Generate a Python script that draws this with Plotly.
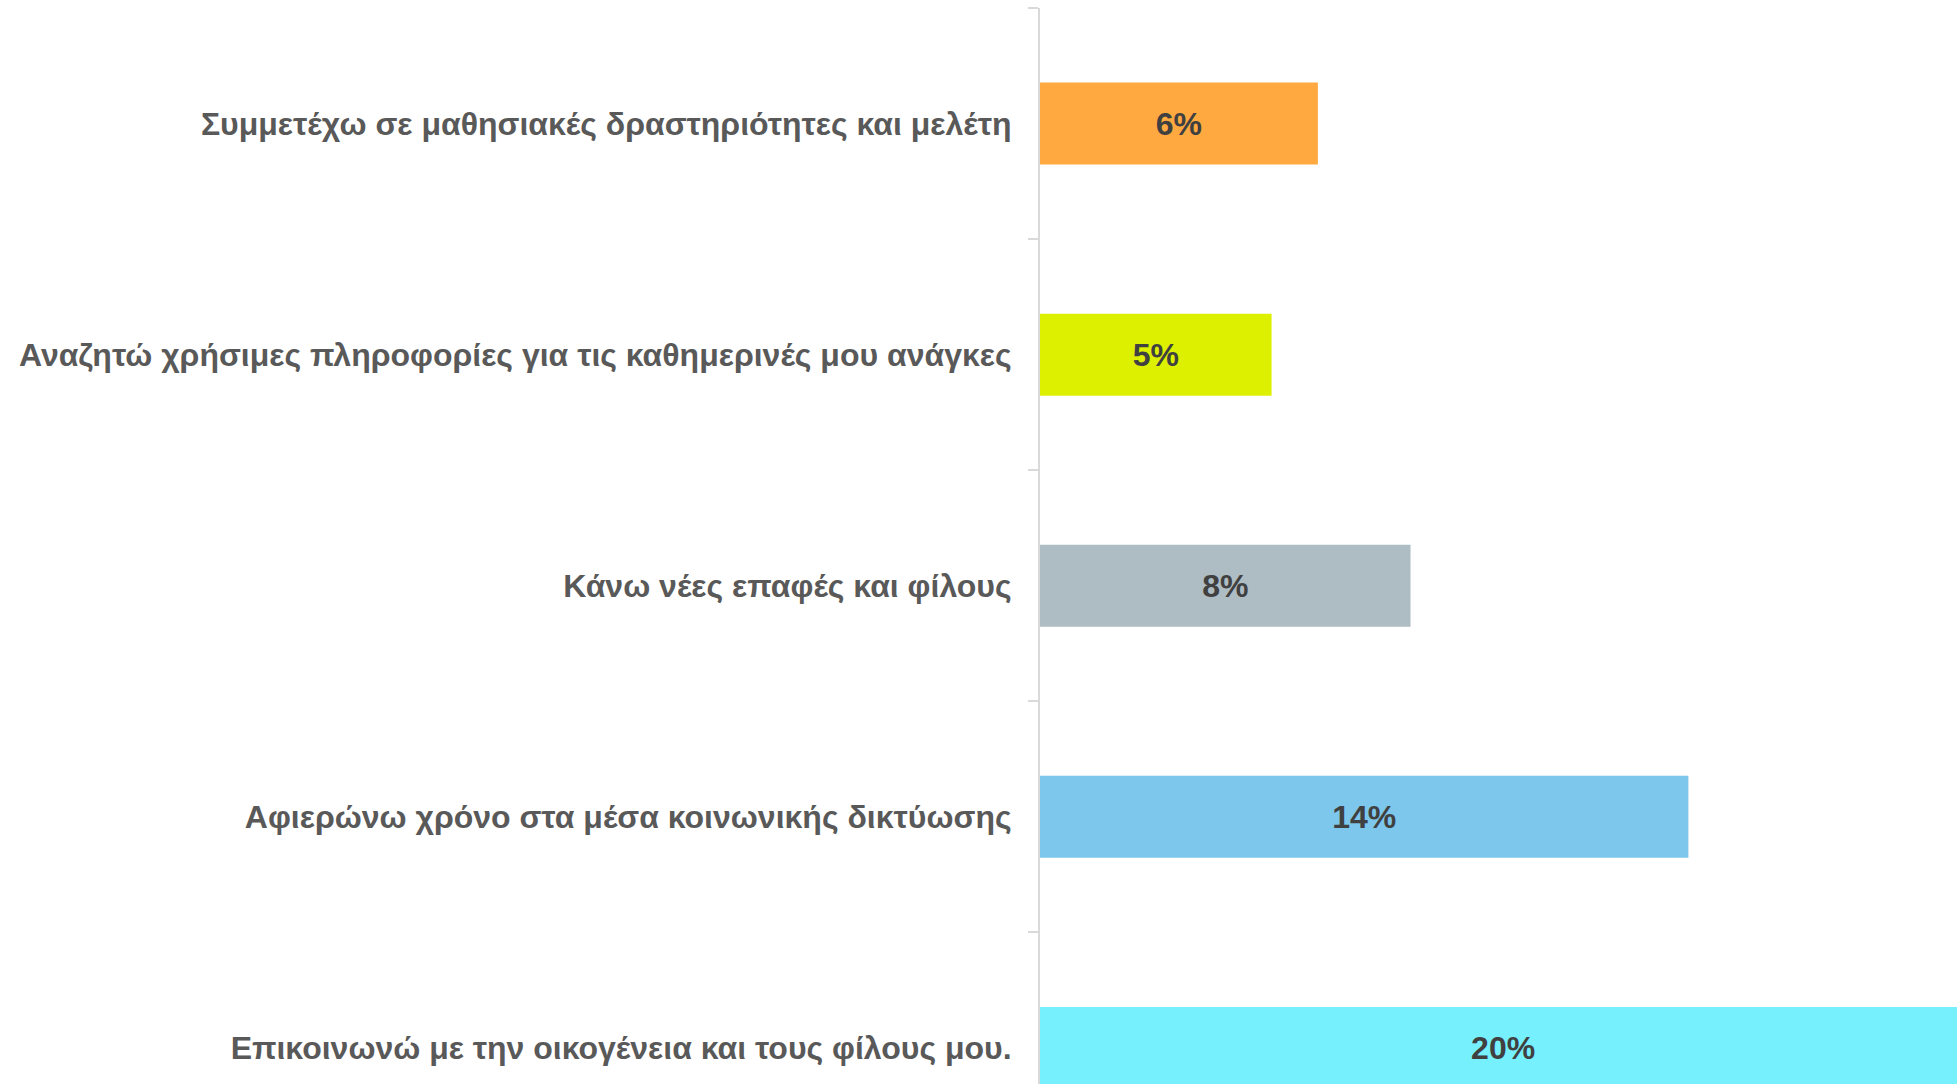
import plotly.graph_objects as go

categories = [
    "Συμμετέχω σε μαθησιακές δραστηριότητες και μελέτη",
    "Αναζητώ χρήσιμες πληροφορίες για τις καθημερινές μου ανάγκες",
    "Κάνω νέες επαφές και φίλους",
    "Αφιερώνω χρόνο στα μέσα κοινωνικής δικτύωσης",
    "Επικοινωνώ με την οικογένεια και τους φίλους μου.",
]
values = [6, 5, 8, 14, 20]
labels = ["6%", "5%", "8%", "14%", "20%"]
colors = ["#FFA940", "#DCF000", "#AEBCC4", "#7DC6EC", "#75F0FC"]

fig = go.Figure(
    go.Bar(
        y=categories,
        x=values,
        orientation="h",
        text=labels,
        textposition="inside",
        insidetextanchor="middle",
        textangle=0,
        textfont=dict(family="Liberation Sans, Arial, sans-serif", size=32, color="#404040", weight="bold"),
        marker=dict(color=colors, line=dict(width=0)),
        width=0.355,
        hoverinfo="skip",
        cliponaxis=True,
    )
)

fig.update_layout(
    width=1957,
    height=1084,
    margin=dict(l=1040, r=0, t=8, b=0),
    paper_bgcolor="white",
    plot_bgcolor="white",
    showlegend=False,
    uniformtext=dict(mode=False),
)
fig.update_xaxes(range=[0, 19.8], visible=False, showgrid=False, zeroline=False)
fig.update_yaxes(
    type="category",
    categoryorder="array",
    categoryarray=categories,
    range=[4.156, -0.5],
    autorange=False,
    showgrid=False,
    zeroline=False,
    showline=True,
    linecolor="#D9D9D9",
    linewidth=2,
    ticks="outside",
    tickson="boundaries",
    ticklen=10,
    tickcolor="#D9D9D9",
    tickwidth=2,
    ticklabelstandoff=20,
    tickfont=dict(family="Liberation Sans, Arial, sans-serif", size=32, color="#595959", weight="bold"),
)

fig.write_html(
    "out.html",
    config={"displayModeBar": False},
    post_script="document.body.style.margin='0';document.documentElement.style.overflow='hidden';document.body.style.overflow='hidden';",
)
